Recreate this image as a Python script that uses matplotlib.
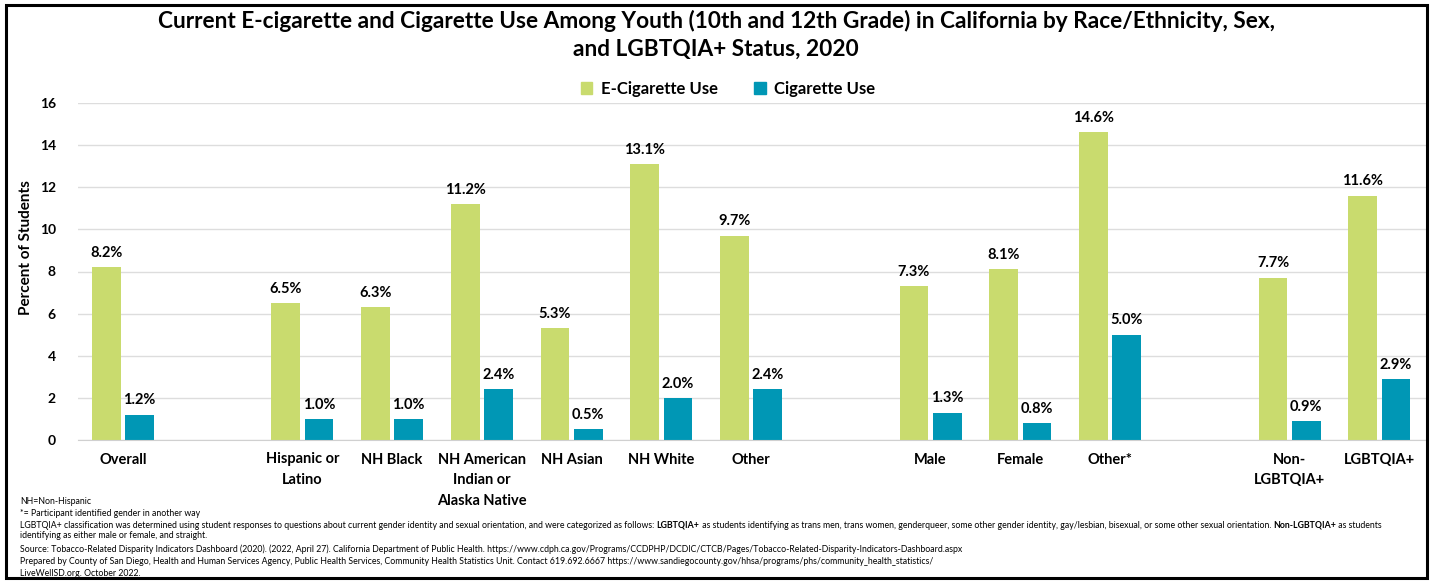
import matplotlib
matplotlib.use("Agg")
import matplotlib.pyplot as plt
from matplotlib.patches import Rectangle
import numpy as np

plt.rcParams['font.family'] = ['Lato', 'DejaVu Sans']

# ── Data ──────────────────────────────────────────────────────────────────
# empty strings are the spacer slots between groups
categories = ["Overall", "", "Hispanic or\nLatino", "NH Black",
              "NH American\nIndian or\nAlaska Native", "NH Asian", "NH White",
              "Other", "", "Male", "Female", "Other*", "",
              "Non-\nLGBTQIA+", "LGBTQIA+"]
ecig = [8.2, None, 6.5, 6.3, 11.2, 5.3, 13.1, 9.7, None, 7.3, 8.1, 14.6, None, 7.7, 11.6]
cig  = [1.2, None, 1.0, 1.0, 2.4, 0.5, 2.0, 2.4, None, 1.3, 0.8, 5.0, None, 0.9, 2.9]
yticks = [0, 2, 4, 6, 8, 10, 12, 14, 16]

GREEN = '#C9DB6E'
BLUE = '#0097B5'

fig = plt.figure(figsize=(14.33, 5.83), dpi=100)
W, H = 1433, 583
ax = fig.add_axes([78 / W, 1 - 440 / H, (1427 - 78) / W, (440 - 103) / H])

# ── Bars + labels ─────────────────────────────────────────────────────────
x = np.arange(len(categories))
bw = 0.32
off = 0.185
for i in x:
    if ecig[i] is None:
        continue
    ax.bar(i - off, ecig[i], width=bw, color=GREEN)
    ax.bar(i + off, cig[i], width=bw, color=BLUE)
    ax.text(i - off, ecig[i] + 0.35, f"{ecig[i]:.1f}%", ha='center', va='bottom',
            fontsize=10.5, fontweight='bold')
    ax.text(i + off, cig[i] + 0.35, f"{cig[i]:.1f}%", ha='center', va='bottom',
            fontsize=10.5, fontweight='bold')

ax.set_xlim(-0.5, len(categories) - 0.5 + 0.03)
ax.set_ylim(0, 16)
ax.set_yticks(yticks)
ax.set_xticks(x)
ax.set_xticklabels(categories, fontsize=10.5, fontweight='bold', linespacing=1.6)
ax.tick_params(axis='x', length=0, pad=9)
ax.tick_params(axis='y', length=0, pad=16, labelsize=10)
for lab in ax.get_yticklabels():
    lab.set_fontweight('bold')
ax.grid(axis='y', color='#DDDDDD', linewidth=1)
ax.set_axisbelow(True)
for s in ['top', 'right', 'left']:
    ax.spines[s].set_visible(False)
ax.spines['bottom'].set_color('#D0D0D0')
ax.set_ylabel("Percent of Students", fontsize=11, fontweight='bold')
ax.yaxis.set_label_coords(-(78 - 33) / (1427 - 78), 0.57)

# ── Legend / title ────────────────────────────────────────────────────────
h1 = Rectangle((0, 0), 1, 1, color=GREEN)
h2 = Rectangle((0, 0), 1, 1, color=BLUE)
fig.legend([h1, h2], ["E-Cigarette Use", "Cigarette Use"], loc='center',
           bbox_to_anchor=(728 / W, 1 - 89 / H), ncol=2, frameon=False,
           prop={'size': 12, 'weight': 'bold'}, handlelength=0.7, handleheight=0.7,
           columnspacing=2.2, handletextpad=0.5)

fig.text(716 / W, 1 - 35 / H,
         "Current E-cigarette and Cigarette Use Among Youth (10th and 12th Grade) in California by Race/Ethnicity, Sex,\nand LGBTQIA+ Status, 2020",
         ha='center', va='center', fontsize=16.3, fontweight='bold', linespacing=1.4)

# ── Footnotes ─────────────────────────────────────────────────────────────
fs = 6.3
fx = 20 / W
fig.text(fx, 1 - 502 / H, "NH=Non-Hispanic", fontsize=fs, va='center')
fig.text(fx, 1 - 513 / H, "*= Participant identified gender in another way", fontsize=fs, va='center')
parts = [("LGBTQIA+ classification was determined using student responses to questions about current gender identity and sexual orientation, and were categorized as follows: ", 'normal'),
         ("LGBTQIA+", 'bold'),
         (" as students identifying as trans men, trans women, genderqueer, some other gender identity, gay/lesbian, bisexual, or some other sexual orientation. ", 'normal'),
         ("Non-LGBTQIA+", 'bold'),
         (" as students", 'normal')]
# chain the pieces so the bold words sit inline
prev = fig.text(fx, 1 - 525 / H, parts[0][0], fontsize=fs, va='center')
for txt, wt in parts[1:]:
    prev = ax.annotate(txt, xy=(1, 0.5), xycoords=prev, va='center', ha='left',
                       fontsize=fs, fontweight=wt, annotation_clip=False)
fig.text(fx, 1 - 535 / H, "identifying as either male or female, and straight.", fontsize=fs, va='center')
fig.text(fx, 1 - 549 / H, "Source: Tobacco-Related Disparity Indicators Dashboard (2020). (2022, April 27). California Department of Public Health. https://www.cdph.ca.gov/Programs/CCDPHP/DCDIC/CTCB/Pages/Tobacco-Related-Disparity-Indicators-Dashboard.aspx", fontsize=fs, va='center')
fig.text(fx, 1 - 561 / H, "Prepared by County of San Diego, Health and Human Services Agency, Public Health Services, Community Health Statistics Unit. Contact 619.692.6667 https://www.sandiegocounty.gov/hhsa/programs/phs/community_health_statistics/", fontsize=fs, va='center')
fig.text(fx, 1 - 573 / H, "LiveWellSD.org. October 2022.", fontsize=fs, va='center')

# border
fig.patches.append(Rectangle((6 / W, 1 - 578 / H), (1427 - 6) / W, (578 - 5) / H,
                             transform=fig.transFigure, fill=False, edgecolor='black',
                             linewidth=2.2))

fig.savefig("out.png", dpi=100)
print("Saved -> out.png")
